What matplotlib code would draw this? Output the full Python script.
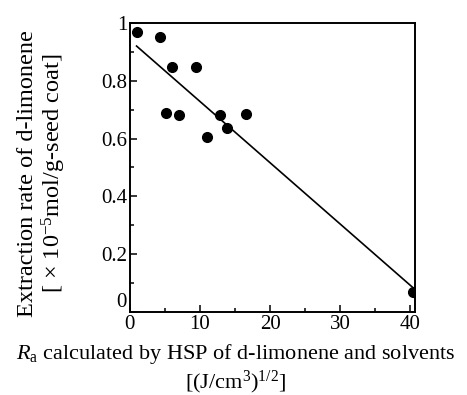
import numpy as np
import matplotlib.pyplot as plt
from matplotlib.ticker import MultipleLocator

# measured points (Ra vs extraction rate)
ra = [0.96, 4.3, 5.95, 9.4, 5.1, 6.95, 11.05, 12.9, 13.9, 16.6, 40.4]
rate = [0.97, 0.95, 0.849, 0.847, 0.69, 0.68, 0.605, 0.68, 0.637, 0.685, 0.068]

# regression line ends
fit_x = [0.96, 40.5]
fit_y = [0.92, 0.082]

yticks = [0, 0.2, 0.4, 0.6, 0.8, 1.0]
ytick_labels = ['0', '0.2', '0.4', '0.6', '0.8', '1']

plt.rcParams['font.family'] = ['Liberation Serif', 'DejaVu Serif']
plt.rcParams['mathtext.fontset'] = 'custom'
plt.rcParams['mathtext.rm'] = 'Liberation Serif'
plt.rcParams['mathtext.it'] = 'Liberation Serif:italic'

fig = plt.figure(figsize=(4.67, 3.95), dpi=100)
ax = fig.add_axes([0.278, 0.21, 0.611, 0.732])

ax.plot(fit_x, fit_y, color='black', lw=1.2)
ax.plot(ra, rate, 'o', color='black', markersize=7)

ax.set_xlim(0, 40.7)
ax.set_ylim(0, 1)
ax.xaxis.set_major_locator(MultipleLocator(10))
ax.xaxis.set_minor_locator(MultipleLocator(5))
ax.yaxis.set_minor_locator(MultipleLocator(0.1))
ax.set_yticks(yticks)
ax.set_yticklabels(ytick_labels)
ax.tick_params(which='both', direction='in', labelsize=15, width=1.1, pad=2)
ax.tick_params(which='major', length=5)
ax.tick_params(which='minor', length=3)
for s in ax.spines.values():
    s.set_linewidth(1.4)
# lift the y "0" so it does not sit on the x "0"
ax.get_yticklabels()[0].set_va('bottom')

ax.set_xlabel('$R_\\mathrm{a}$ calculated by HSP of d-limonene and solvents\n'
              '[(J/cm$^3$)$^{1/2}$]', fontsize=16, linespacing=1.1)
ax.xaxis.set_label_coords(0.372, -0.105)
ax.set_ylabel('Extraction rate of d-limonene\n'
              '[ × 10$^{-5}$mol/g-seed coat]', fontsize=17.5, linespacing=1.12)
ax.yaxis.set_label_coords(-0.215, 0.48)

fig.savefig('out.png', dpi=100)
